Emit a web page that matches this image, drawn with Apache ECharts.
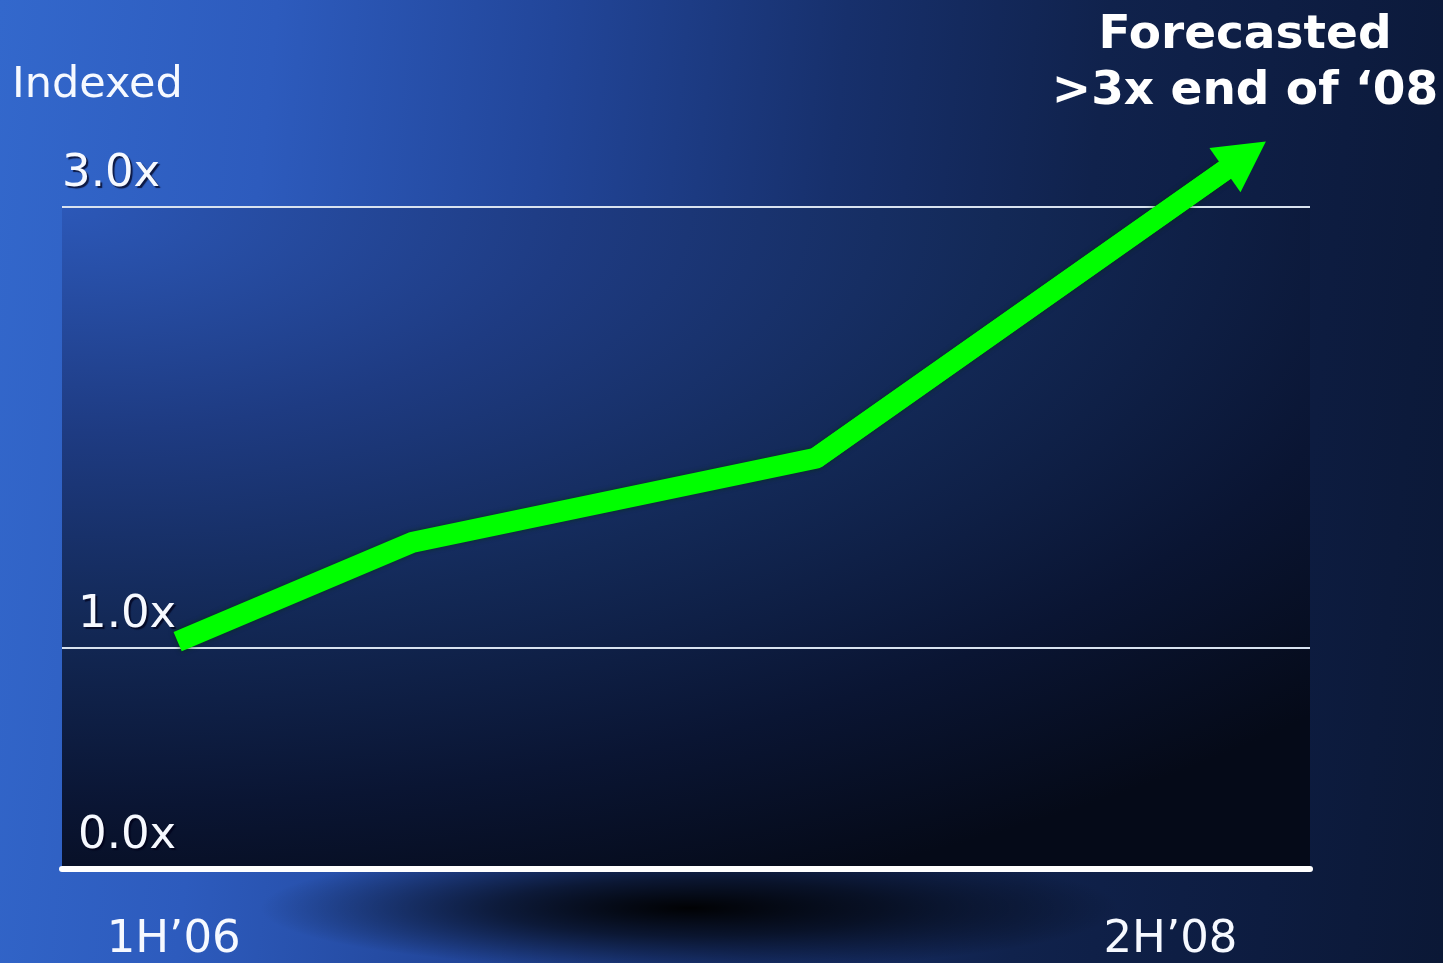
<!DOCTYPE html>
<html>
<head>
<meta charset="utf-8">
<title>Indexed growth</title>
<script src="https://cdn.jsdelivr.net/npm/echarts@6/dist/echarts.min.js"></script>
<style>
  html, body { margin: 0; padding: 0; }
  #stage {
    position: relative;
    width: 1443px;
    height: 963px;
    overflow: hidden;
    background:
      radial-gradient(ellipse 430px 62px at 690px 908px, rgba(0,0,0,0.97) 0%, rgba(0,0,0,0.6) 45%, rgba(0,0,0,0) 100%),
      linear-gradient(96deg, #3368cc 0%, #2d5bbd 18%, #22469a 36%, #17306c 55%, #10224c 72%, #0d1c40 88%, #0b1836 100%);
  }
  #panel { position: absolute; }
  #chart { position: absolute; left: 0; top: 0; width: 1443px; height: 963px; }
</style>
</head>
<body>
<div id="stage">
  <div id="panel"></div>
  <div id="chart"></div>
</div>
<script>
// Half-year periods on the x axis: 0 = 1H'06 ... 5 = 2H'08
const xTickPositions = [0, 5];
const xTickLabels = ['1H\u201906', '2H\u201908'];

// Indexed level of the trend line (1.0x = 1H'06)
const periodPos = [0.02, 1.2, 3.22, 5.376];
const indexValues = [1.03, 1.48, 1.86, 3.23];

// Y axis reference levels
const yTickValues = [0, 1, 3];
const yTickLabels = ['0.0x', '1.0x', '3.0x'];

const titleText = 'Indexed';
const calloutLines = ['Forecasted', '>3x end of \u201808'];

// Layout: value 0 sits on y = 872, value 3 on y = 207; the axis runs
// on to 3.5 so the arrow tip stays inside the coordinate system.
const W = 1443, H = 963;
const Y_MAX = 3.5, Y_TOP_LEVEL = 3;
const PX0 = 872, PX3 = 207;
const unitPx = (PX0 - PX3) / Y_TOP_LEVEL;
const GRID = { left: 62, right: 133, top: PX3 - (Y_MAX - Y_TOP_LEVEL) * unitPx, bottom: H - PX0 };

// Dark panel behind the plotting area (from the 3.0x line down to the base line)
const panel = document.getElementById('panel');
panel.style.left = GRID.left + 'px';
panel.style.top = PX3 + 'px';
panel.style.width = (W - GRID.left - GRID.right) + 'px';
panel.style.height = (PX0 - PX3) + 'px';
panel.style.background =
  'radial-gradient(ellipse 1700px 750px at 0% 0%, #2c58b8 0%, #1e3b82 30%, #132957 55%, #0a1533 80%, #050a18 100%)';

const FONT = '"DejaVu Sans", Verdana, sans-serif';
const WHITE = '#f6f9ff';
const GREEN = '#00ff00';
const shadow = { textShadowColor: 'rgba(0,0,25,0.75)', textShadowOffsetX: 2, textShadowOffsetY: 2, textShadowBlur: 1 };

const chart = echarts.init(document.getElementById('chart'), null, { renderer: 'canvas' });

const linePoints = periodPos.map((x, i) => [x, indexValues[i]]);
const last = linePoints.length - 1;

chart.setOption({
  backgroundColor: 'transparent',
  animation: false,
  grid: { left: GRID.left, right: GRID.right, top: GRID.top, bottom: GRID.bottom, containLabel: false },
  xAxis: {
    type: 'value',
    min: -0.56,
    max: 5.7,
    axisLine: { show: true, onZero: false, lineStyle: { color: '#ffffff', width: 6 } },
    axisTick: { show: false },
    splitLine: { show: false },
    axisLabel: {
      customValues: xTickPositions,
      margin: 49,
      color: WHITE,
      fontFamily: FONT,
      fontSize: 45,
      formatter: (v) => {
        const i = xTickPositions.indexOf(v);
        return i >= 0 ? xTickLabels[i] : '';
      }
    }
  },
  yAxis: {
    type: 'value',
    min: 0,
    max: Y_MAX,
    interval: 1,
    axisLine: { show: false },
    axisTick: { show: false },
    splitLine: {
      show: true,
      showMaxLine: false,
      lineStyle: { color: ['rgba(0,0,0,0)', '#d8e2ef', 'rgba(0,0,0,0)', '#d8e2ef', 'rgba(0,0,0,0)'], width: 2 }
    },
    axisLabel: {
      inside: true,
      margin: 0,
      verticalAlign: 'bottom',
      showMaxLabel: false,
      formatter: (v) => {
        const i = yTickValues.indexOf(v);
        if (i < 0) return '';
        return (v === 3 ? '{top|' : '{low|') + yTickLabels[i] + '}';
      },
      rich: {
        top: Object.assign({ color: WHITE, fontFamily: FONT, fontSize: 45, padding: [0, 0, 10, 0] }, shadow),
        low: Object.assign({ color: WHITE, fontFamily: FONT, fontSize: 45, padding: [0, 0, 10, 16] }, shadow)
      }
    }
  },
  graphic: [
    {
      type: 'text',
      left: 12,
      top: 64,
      style: {
        text: titleText, fill: WHITE, font: '43px ' + FONT,
        shadowColor: 'rgba(0,0,25,0.75)', shadowOffsetX: 2, shadowOffsetY: 2, shadowBlur: 1
      }
    },
    {
      type: 'text',
      x: 1245,
      y: 8,
      style: {
        text: calloutLines.join('\n'),
        fill: '#ffffff',
        font: 'bold 47px ' + FONT,
        align: 'center',
        lineHeight: 56
      }
    }
  ],
  series: [
    {
      type: 'line',
      data: linePoints,
      symbol: 'none',
      clip: false,
      silent: true,
      lineStyle: {
        color: GREEN,
        width: 21,
        join: 'round',
        cap: 'butt',
        shadowColor: 'rgba(0,50,0,0.7)',
        shadowBlur: 5
      },
      markLine: {
        silent: true,
        symbol: ['none', 'path://M0,0 L1,2 L-1,2 Z'],
        symbolSize: [54, 50],
        label: { show: false },
        emphasis: { disabled: true },
        itemStyle: { color: GREEN },
        lineStyle: { color: GREEN, width: 21, type: 'solid', cap: 'butt' },
        data: [[
          { coord: linePoints[last - 1] },
          { coord: linePoints[last] }
        ]]
      }
    }
  ]
});
</script>
</body>
</html>
